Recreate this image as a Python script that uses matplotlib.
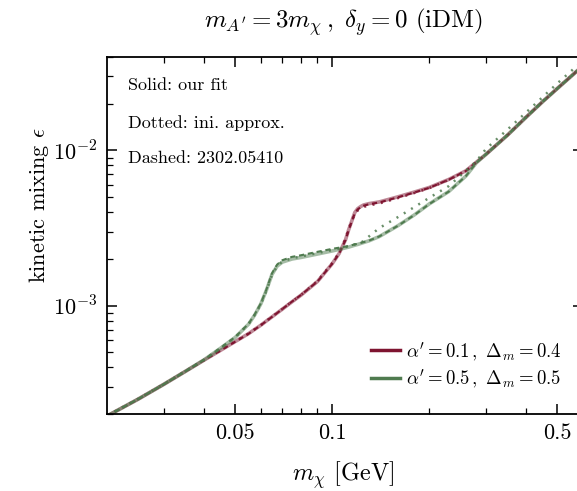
import math
import matplotlib
matplotlib.use("Agg")
import matplotlib.pyplot as plt
from matplotlib.lines import Line2D
from matplotlib.ticker import FixedLocator, FixedFormatter, FuncFormatter, LogLocator, NullFormatter

plt.rcParams['font.family'] = 'serif'
plt.rcParams['font.serif'] = ['cmr10']
plt.rcParams['mathtext.fontset'] = 'cm'
plt.rcParams['axes.formatter.use_mathtext'] = True

# ---------------- data ----------------
m_chi = [0.02, 0.025, 0.03, 0.035, 0.04, 0.045, 0.05, 0.055, 0.0575, 0.06,
         0.0625, 0.065, 0.0675, 0.07, 0.075, 0.08, 0.09, 0.1, 0.105, 0.11,
         0.1125, 0.115, 0.1175, 0.12, 0.1225, 0.125, 0.13, 0.14, 0.16, 0.18,
         0.2, 0.23, 0.26, 0.28, 0.3, 0.35, 0.4, 0.45, 0.5, 0.6]

# alpha'=0.1, Delta_m=0.4
red_fit = [1.941e-4, 2.495e-4, 3.105e-4, 3.763e-4, 4.446e-4, 5.140e-4, 5.861e-4, 6.592e-4, 7.03e-4, 7.464e-4,
           7.96e-4, 8.45e-4, 8.96e-4, 9.48e-4, 1.057e-3, 1.167e-3, 1.429e-3, 1.862e-3, 2.163e-3, 2.661e-3,
           3.09e-3, 3.508e-3, 3.981e-3, 4.217e-3, 4.345e-3, 4.446e-3, 4.539e-3, 4.656e-3, 5.023e-3, 5.395e-3,
           5.768e-3, 6.501e-3, 7.396e-3, 8.395e-3, 9.441e-3, 1.256e-2, 1.641e-2, 2.065e-2, 2.512e-2, 3.516e-2]
red_ref = [1.94e-4, 2.49e-4, 3.10e-4, 3.76e-4, 4.44e-4, 5.13e-4, 5.85e-4, 6.58e-4, 7.02e-4, 7.46e-4,
           7.95e-4, 8.45e-4, 8.96e-4, 9.50e-4, 1.06e-3, 1.17e-3, 1.43e-3, 1.86e-3, 2.16e-3, 2.65e-3,
           3.07e-3, 3.49e-3, 3.93e-3, 4.17e-3, 4.30e-3, 4.40e-3, 4.50e-3, 4.62e-3, 4.99e-3, 5.36e-3,
           5.74e-3, 6.48e-3, 7.38e-3, 8.38e-3, 9.43e-3, 1.255e-2, 1.64e-2, 2.06e-2, 2.51e-2, 3.51e-2]
red_approx = [1.95e-4, 2.50e-4, 3.11e-4, 3.77e-4, 4.45e-4, 5.15e-4, 5.87e-4, 6.60e-4, 7.04e-4, 7.47e-4,
              7.97e-4, 8.47e-4, 8.98e-4, 9.50e-4, 1.06e-3, 1.17e-3, 1.44e-3, 1.88e-3, 2.19e-3, 2.70e-3,
              3.13e-3, 3.52e-3, 3.90e-3, 4.10e-3, 4.22e-3, 4.32e-3, 4.42e-3, 4.55e-3, 4.93e-3, 5.32e-3,
              5.72e-3, 6.47e-3, 7.38e-3, 8.40e-3, 9.45e-3, 1.258e-2, 1.642e-2, 2.067e-2, 2.515e-2, 3.52e-2]

# alpha'=0.5, Delta_m=0.5
green_fit = [1.941e-4, 2.495e-4, 3.105e-4, 3.763e-4, 4.467e-4, 5.309e-4, 6.237e-4, 7.586e-4, 8.710e-4, 1.023e-3,
             1.259e-3, 1.585e-3, 1.799e-3, 1.905e-3, 1.995e-3, 2.042e-3, 2.148e-3, 2.249e-3, 2.301e-3, 2.355e-3,
             2.382e-3, 2.415e-3, 2.449e-3, 2.477e-3, 2.512e-3, 2.547e-3, 2.612e-3, 2.786e-3, 3.273e-3, 3.846e-3,
             4.519e-3, 5.433e-3, 6.839e-3, 8.318e-3, 9.441e-3, 1.256e-2, 1.641e-2, 2.065e-2, 2.512e-2, 3.516e-2]
green_ref = [1.94e-4, 2.50e-4, 3.11e-4, 3.77e-4, 4.48e-4, 5.33e-4, 6.27e-4, 7.63e-4, 8.78e-4, 1.03e-3,
             1.27e-3, 1.61e-3, 1.84e-3, 1.96e-3, 2.06e-3, 2.11e-3, 2.22e-3, 2.32e-3, 2.36e-3, 2.40e-3,
             2.42e-3, 2.45e-3, 2.48e-3, 2.50e-3, 2.53e-3, 2.56e-3, 2.62e-3, 2.79e-3, 3.27e-3, 3.84e-3,
             4.51e-3, 5.43e-3, 6.84e-3, 8.32e-3, 9.44e-3, 1.256e-2, 1.64e-2, 2.065e-2, 2.51e-2, 3.515e-2]
green_approx = [1.95e-4, 2.50e-4, 3.11e-4, 3.77e-4, 4.47e-4, 5.32e-4, 6.25e-4, 7.60e-4, 8.72e-4, 1.02e-3,
                1.25e-3, 1.58e-3, 1.80e-3, 1.92e-3, 2.02e-3, 2.07e-3, 2.18e-3, 2.28e-3, 2.33e-3, 2.38e-3,
                2.41e-3, 2.45e-3, 2.48e-3, 2.51e-3, 2.55e-3, 2.60e-3, 2.79e-3, 3.16e-3, 3.72e-3, 4.32e-3,
                4.95e-3, 5.89e-3, 7.41e-3, 8.51e-3, 1.023e-2, 1.365e-2, 1.76e-2, 2.21e-2, 2.71e-2, 3.80e-2]

labels = [r"$\alpha' = 0.1\,,\ \Delta_m = 0.4$", r"$\alpha' = 0.5\,,\ \Delta_m = 0.5$"]
notes = ["Solid: our fit", "Dotted: ini. approx.", "Dashed: 2302.05410"]
x_major = [0.05, 0.1, 0.5]
x_major_labels = ["0.05", "0.1", "0.5"]
x_minor = [0.03, 0.04, 0.06, 0.07, 0.08, 0.09, 0.2, 0.3, 0.4]

red = '#7e1430'
green = '#4f7b4f'

# ---------------- figure ----------------
fig = plt.figure(figsize=(5.77, 4.91), dpi=100)
ax = fig.add_axes([107/577, 1-414/491, 476/577, 357/491])

for col, fit, ref, approx in [(red, red_fit, red_ref, red_approx),
                              (green, green_fit, green_ref, green_approx)]:
    ax.plot(m_chi, fit, color=col, lw=2.6, alpha=0.5, solid_capstyle='round')
    ax.plot(m_chi, ref, color=col, lw=1.5, dashes=(2.5, 1.8))
    ax.plot(m_chi, approx, color=col, lw=1.8, linestyle=(0, (0.8, 2.6)), alpha=0.85)

ax.set_xscale('log')
ax.set_yscale('log')
ax.set_xlim(0.02, 0.6)
ax.set_ylim(2e-4, 4e-2)

ax.xaxis.set_major_locator(FixedLocator(x_major))
ax.xaxis.set_major_formatter(FixedFormatter(x_major_labels))
ax.xaxis.set_minor_locator(FixedLocator(x_minor))
ax.xaxis.set_minor_formatter(NullFormatter())
ax.yaxis.set_major_locator(LogLocator(base=10, numticks=10))
ax.yaxis.set_major_formatter(FuncFormatter(lambda v, p: r"$10^{%d}$" % round(math.log10(v))))
ax.yaxis.set_minor_locator(LogLocator(base=10, subs=range(2, 10), numticks=20))
ax.yaxis.set_minor_formatter(NullFormatter())

ax.tick_params(which='both', direction='in', top=True, right=True, labelsize=16)
ax.tick_params(which='major', length=7, width=1.1, pad=7)
ax.tick_params(which='minor', length=4, width=0.9)
for s in ax.spines.values():
    s.set_linewidth(1.3)

ax.set_ylabel(r"kinetic mixing $\epsilon$", fontsize=16, va='center')
ax.yaxis.set_label_coords(-0.143, 0.585)
ax.set_xlabel(r"$m_\chi$ [GeV]", fontsize=17.5, va='center')
ax.xaxis.set_label_coords(0.497, -0.172)

fig.text(343/577, 1-22/491, r"$m_{A'} = 3m_\chi\,,\ \delta_y = 0$ (iDM)", fontsize=18,
         ha='center', va='center')

for t, yy in zip(notes, [0.9216, 0.815, 0.717]):
    ax.text(0.044, yy, t, transform=ax.transAxes, fontsize=13, ha='left', va='center')

handles = [Line2D([], [], color=red, lw=2.5), Line2D([], [], color=green, lw=2.5)]
ax.legend(handles, labels, loc='lower right', bbox_to_anchor=(0.99, 0.02), frameon=False,
          fontsize=13.5, handlelength=1.5, handletextpad=0.33, labelspacing=0.25)

fig.savefig('out.png', dpi=100)
